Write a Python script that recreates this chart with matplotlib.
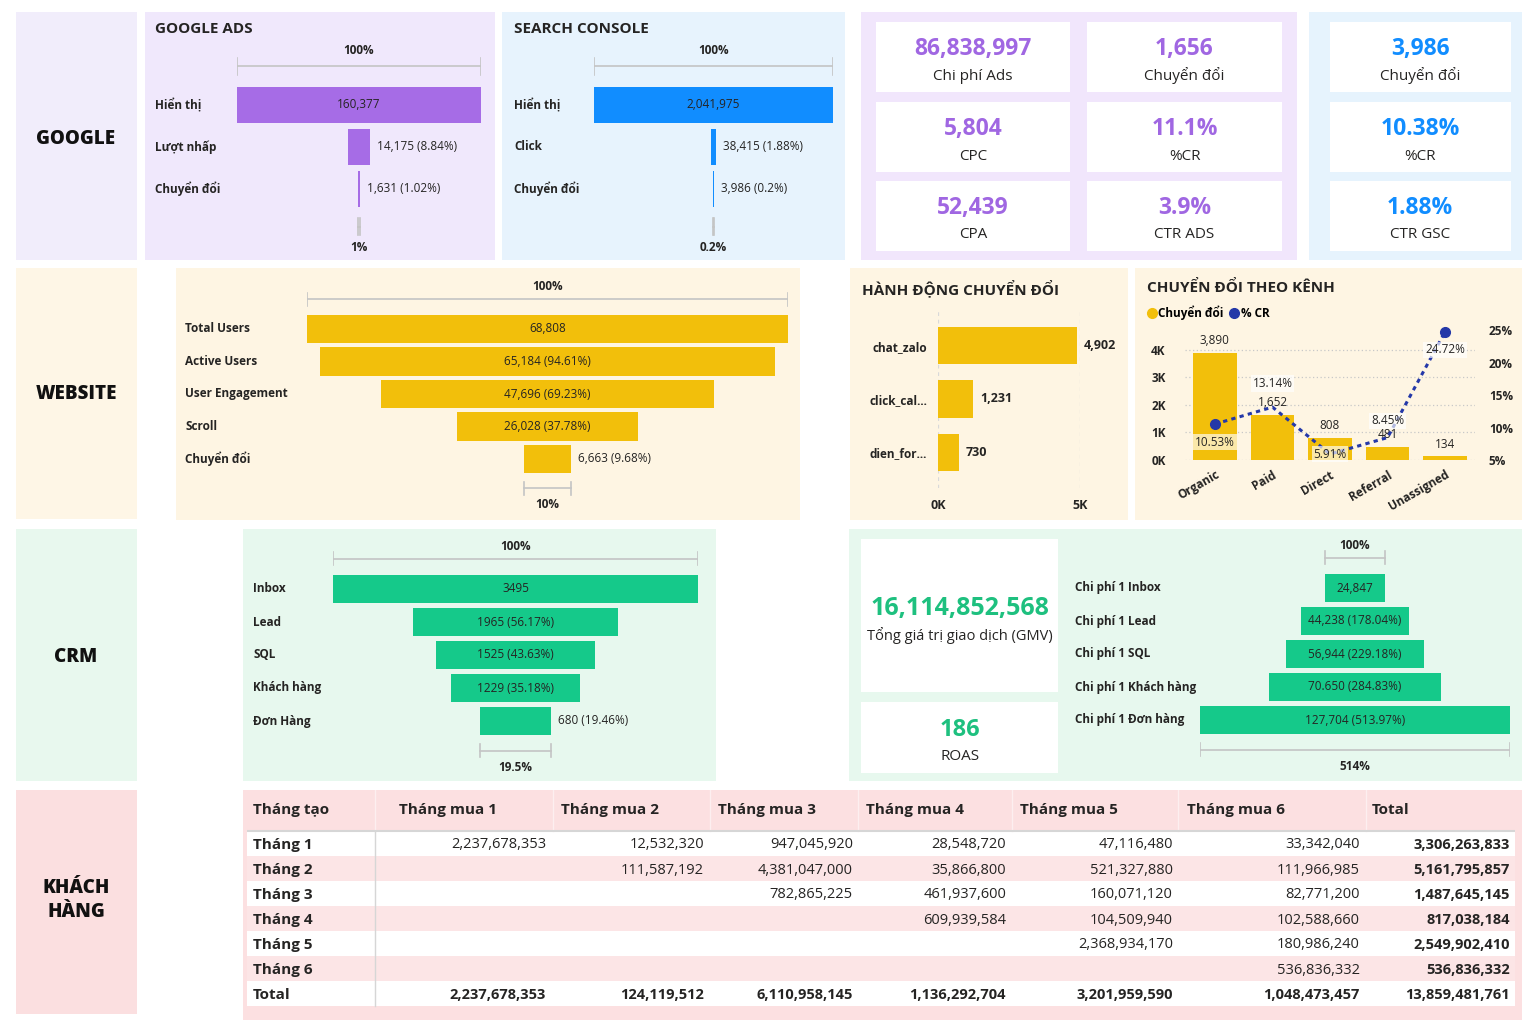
import matplotlib
matplotlib.use("Agg")
import matplotlib.pyplot as plt
from matplotlib.patches import Rectangle
from matplotlib.lines import Line2D
import numpy as np

plt.rcParams['font.family'] = ['Open Sans', 'DejaVu Sans']

W, H = 1536, 1024

# ---- du lieu ----
ads_steps = ["Hiển thị", "Lượt nhấp", "Chuyển đổi"]
ads_values = [160377, 14175, 1631]
ads_labels = ["160,377", "14,175 (8.84%)", "1,631 (1.02%)"]
ads_ends = ["100%", "1%"]

gsc_steps = ["Hiển thị", "Click", "Chuyển đổi"]
gsc_values = [2041975, 38415, 3986]
gsc_labels = ["2,041,975", "38,415 (1.88%)", "3,986 (0.2%)"]
gsc_ends = ["100%", "0.2%"]

ads_kpi_values = ["86,838,997", "1,656", "5,804", "11.1%", "52,439", "3.9%"]
ads_kpi_names = ["Chi phí Ads", "Chuyển đổi", "CPC", "%CR", "CPA", "CTR ADS"]
gsc_kpi_values = ["3,986", "10.38%", "1.88%"]
gsc_kpi_names = ["Chuyển đổi", "%CR", "CTR GSC"]

web_steps = ["Total Users", "Active Users", "User Engagement", "Scroll", "Chuyển đổi"]
web_values = [68808, 65184, 47696, 26028, 6663]
web_labels = ["68,808", "65,184 (94.61%)", "47,696 (69.23%)", "26,028 (37.78%)", "6,663 (9.68%)"]
web_ends = ["100%", "10%"]

action_names = ["chat_zalo", "click_cal...", "dien_for..."]
action_values = [4902, 1231, 730]

channels = ["Organic", "Paid", "Direct", "Referral", "Unassigned"]
channel_conv = [3890, 1652, 808, 481, 134]
channel_cr = [10.53, 13.14, 5.91, 8.45, 24.72]

crm_steps = ["Inbox", "Lead", "SQL", "Khách hàng", "Đơn Hàng"]
crm_values = [3495, 1965, 1525, 1229, 680]
crm_labels = ["3495", "1965 (56.17%)", "1525 (43.63%)", "1229 (35.18%)", "680 (19.46%)"]
crm_ends = ["100%", "19.5%"]

cost_steps = ["Chi phí 1 Inbox", "Chi phí 1 Lead", "Chi phí 1 SQL", "Chi phí 1 Khách hàng", "Chi phí 1 Đơn hàng"]
cost_values = [24847, 44238, 56944, 70650, 127704]
cost_labels = ["24,847", "44,238 (178.04%)", "56,944 (229.18%)", "70.650 (284.83%)", "127,704 (513.97%)"]
cost_ends = ["100%", "514%"]

gmv_value = "16,114,852,568"
roas_value = "186"

table_cols = ["Tháng tạo", "Tháng mua 1", "Tháng mua 2", "Tháng mua 3", "Tháng mua 4",
              "Tháng mua 5", "Tháng mua 6", "Total"]
table_rows = ["Tháng 1", "Tháng 2", "Tháng 3", "Tháng 4", "Tháng 5", "Tháng 6", "Total"]
cohort = [
    [2237678353, 12532320, 947045920, 28548720, 47116480, 33342040, 3306263833],
    [None, 111587192, 4381047000, 35866800, 521327880, 111966985, 5161795857],
    [None, None, 782865225, 461937600, 160071120, 82771200, 1487645145],
    [None, None, None, 609939584, 104509940, 102588660, 817038184],
    [None, None, None, None, 2368934170, 180986240, 2549902410],
    [None, None, None, None, None, 536836332, 536836332],
    [2237678353, 124119512, 6110958145, 1136292704, 3201959590, 1048473457, 13859481761],
]

# ---- mau ----
TXT = '#252423'
PURPLE = '#A66CE6'
BLUE = '#118DFF'
YELLOW = '#F2BF0B'
GREEN = '#15C98A'
GRAY = '#C4C4C4'

fig = plt.figure(figsize=(W / 100, H / 100), dpi=100)
bg = fig.add_axes([0, 0, 1, 1])
bg.set_xlim(0, W)
bg.set_ylim(H, 0)
bg.axis('off')


def panel(x0, y0, x1, y1, color):
    bg.add_patch(Rectangle((x0, y0), x1 - x0, y1 - y0, facecolor=color, edgecolor='none'))


def px_axes(x0, y0, x1, y1):
    ax = fig.add_axes([x0 / W, 1 - y1 / H, (x1 - x0) / W, (y1 - y0) / H])
    ax.set_facecolor('none')
    return ax


# nen cac khung
panel(16, 12, 137, 260, '#F1EDFB')
panel(16, 268, 137, 519, '#FEF6E6')
panel(16, 529, 137, 781, '#E8F8EE')
panel(16, 790, 137, 1014, '#FBDFE0')
panel(145, 12, 495, 260, '#F0E8FC')
panel(502, 12, 845, 260, '#E7F3FD')
panel(861, 12, 1297, 260, '#F1E6FC')
panel(1309, 12, 1522, 260, '#E6F3FD')
panel(176, 268, 800, 520, '#FEF5E3')
panel(850, 268, 1128, 520, '#FEF5E3')
panel(1135, 268, 1522, 520, '#FEF5E3')
panel(243, 529, 716, 781, '#E7F8EE')
panel(849, 529, 1522, 781, '#E7F8EE')
panel(243, 790, 1522, 1020, '#FCE0E1')

for txt, y in [("GOOGLE", 139), ("WEBSITE", 394), ("CRM", 657), ("KHÁCH\nHÀNG", 900)]:
    bg.text(76, y, txt, ha='center', va='center', fontsize=13.5, fontweight='heavy',
            color='#111111', linespacing=1.25)

bg.text(155, 29, "GOOGLE ADS", fontsize=11, fontweight='bold', color=TXT, va='center')
bg.text(514, 29, "SEARCH CONSOLE", fontsize=11, fontweight='bold', color=TXT, va='center')
bg.text(862, 288, "HÀNH ĐỘNG CHUYỂN ĐỔI", fontsize=11, fontweight='bold', color=TXT, va='center')
bg.text(1147, 288, "CHUYỂN ĐỔI THEO KÊNH", fontsize=11, fontweight='bold', color=TXT, va='center')


def funnel(x0, x1, y_first, step, steps, values, labels, ends, color, name_x):
    n = len(values)
    vmax = max(values)
    ax = px_axes(x0, y_first - 1.7 * step, x1, y_first + (n - 1 + 1.7) * step)
    ax.set_xlim(-vmax / 2, vmax / 2)
    ax.set_ylim(n - 1 + 1.7, -1.7)
    ax.axis('off')
    vals = np.array(values, dtype=float)
    pos = np.arange(n)
    ax.barh(pos, vals, left=-vals / 2, height=0.87, color=color)
    px_unit = (x1 - x0) / vmax
    for i, (v, lbl, name) in enumerate(zip(values, labels, steps)):
        if v * px_unit > len(lbl) * 5.8 + 6:
            ax.text(0, i, lbl, ha='center', va='center', fontsize=8.5, color=TXT)
        else:
            ax.annotate(lbl, (v / 2, i), xytext=(5, 0), textcoords='offset points',
                        ha='left', va='center', fontsize=8.5, color=TXT)
        ax.text((name_x - x0) / (x1 - x0), i, name, transform=ax.get_yaxis_transform(),
                ha='left', va='center', fontsize=8.5, fontweight='bold', color=TXT)
    for w, y, txt, ty in [(values[0], -0.92, ends[0], -1.3),
                          (values[-1], n - 1 + 0.9, ends[1], n - 1 + 1.4)]:
        ax.plot([-w / 2, w / 2], [y, y], color=GRAY, lw=1.2)
        for xe in (-w / 2, w / 2):
            ax.plot([xe, xe], [y - 0.2, y + 0.2], color=GRAY, lw=1.2)
        ax.text(0, ty, txt, ha='center', va='center', fontsize=8.5, fontweight='bold', color=TXT)
    return ax


funnel(237, 481, 105, 42, ads_steps, ads_values, ads_labels, ads_ends, PURPLE, 155)
funnel(594, 833, 105, 42, gsc_steps, gsc_values, gsc_labels, gsc_ends, BLUE, 514)
funnel(307, 788, 329, 32.5, web_steps, web_values, web_labels, web_ends, YELLOW, 185)
funnel(333, 698, 589, 33, crm_steps, crm_values, crm_labels, crm_ends, GREEN, 253)
funnel(1200, 1510, 588, 33, cost_steps, cost_values, cost_labels, cost_ends, GREEN, 1075)

# ---- the KPI ----
card_rows = [(22, 92), (102, 172), (181, 251)]
ads_cols = [(876, 1070), (1087, 1282)]
for k, (val, name) in enumerate(zip(ads_kpi_values, ads_kpi_names)):
    (cx0, cx1), (cy0, cy1) = ads_cols[k % 2], card_rows[k // 2]
    panel(cx0, cy0, cx1, cy1, 'white')
    cx = (cx0 + cx1) / 2
    bg.text(cx, cy0 + 27, val, ha='center', va='center', fontsize=16.5, fontweight='bold', color='#A067E2')
    bg.text(cx, cy0 + 54, name, ha='center', va='center', fontsize=11, color=TXT)
for k, (val, name) in enumerate(zip(gsc_kpi_values, gsc_kpi_names)):
    cy0, cy1 = card_rows[k]
    panel(1330, cy0, 1511, cy1, 'white')
    bg.text(1420, cy0 + 27, val, ha='center', va='center', fontsize=16.5, fontweight='bold', color=BLUE)
    bg.text(1420, cy0 + 54, name, ha='center', va='center', fontsize=11, color=TXT)

panel(861, 539, 1058, 692, 'white')
panel(861, 702, 1058, 773, 'white')
bg.text(960, 608, gmv_value, ha='center', va='center', fontsize=18, fontweight='bold', color='#1EC07F')
bg.text(960, 635, "Tổng giá trị giao dịch (GMV)", ha='center', va='center', fontsize=10.5, color=TXT)
bg.text(960, 730, roas_value, ha='center', va='center', fontsize=17, fontweight='bold', color='#1EC07F')
bg.text(960, 757, "ROAS", ha='center', va='center', fontsize=11, color=TXT)

# ---- hanh dong chuyen doi ----
ax = px_axes(938, 310, 1080, 488)
ax.barh(range(len(action_values)), action_values, height=0.7, color=YELLOW, zorder=2)
ax.set_xlim(0, 5000)
ax.set_ylim(len(action_values) - 0.33, -0.67)
ax.set_yticks(range(len(action_values)))
ax.set_yticklabels(action_names, fontsize=8.5, fontweight='bold', color=TXT)
ax.set_xticks([0, 5000])
ax.set_xticklabels(["0K", "5K"], fontsize=9, fontweight='bold', color=TXT)
ax.tick_params(length=0, pad=8)
ax.grid(axis='x', linestyle=(0, (3, 3)), color='#D9D9D9', lw=0.9)
for s in ax.spines.values():
    s.set_visible(False)
for i, v in enumerate(action_values):
    ax.annotate(f"{v:,}", (v, i), xytext=(5, 0), textcoords='offset points',
                ha='left', va='center', fontsize=9, fontweight='bold', color=TXT)

# ---- chuyen doi theo kenh ----
ax = px_axes(1185, 325, 1475, 460)
x = np.arange(len(channels))
ax.bar(x, channel_conv, width=0.76, color=YELLOW, zorder=2)
ax.set_xlim(-0.52, len(channels) - 0.48)
ax.set_ylim(0, 4909)
ax.set_yticks([0, 1000, 2000, 3000, 4000])
ax.set_yticklabels([f"{t // 1000}K" for t in [0, 1000, 2000, 3000, 4000]],
                   fontsize=8.5, fontweight='bold', color=TXT)
ax.set_xticks(x)
ax.set_xticklabels(channels, rotation=30, ha='right', rotation_mode='anchor',
                   fontsize=8.5, fontweight='bold', color=TXT)
ax.tick_params(length=0)
ax.tick_params(axis='y', pad=14)
ax.tick_params(axis='x', pad=6)
ax.grid(axis='y', linestyle=(0, (1, 2)), color='#C8C8C8', lw=0.9)
ax.set_axisbelow(True)
for s in ax.spines.values():
    s.set_visible(False)
for i, v in enumerate(channel_conv):
    ax.annotate(f"{v:,}", (i, v), xytext=(0, 4), textcoords='offset points',
                ha='center', va='bottom', fontsize=8.5, color=TXT)

ax2 = ax.twinx()
ax2.set_ylim(5, 25.77)
ax2.plot(x, channel_cr, color='#2438A8', lw=2.2, ls=(0, (1.4, 1.4)),
         marker='o', markevery=[0, len(x) - 1], ms=7, zorder=3)
ax2.set_yticks([5, 10, 15, 20, 25])
ax2.set_yticklabels(["5%", "10%", "15%", "20%", "25%"], fontsize=8.5, fontweight='bold', color=TXT)
ax2.tick_params(length=0, pad=10)
for s in ax2.spines.values():
    s.set_visible(False)
cr_offsets = [-13, 17, 0, 12, -13]
for i, (v, off) in enumerate(zip(channel_cr, cr_offsets)):
    ax2.annotate(f"{v}%", (i, v), xytext=(0, off), textcoords='offset points',
                 ha='center', va='center', fontsize=8.5, color=TXT,
                 bbox=dict(boxstyle='square,pad=0.15', fc='white', ec='none', alpha=0.65))

handles = [Line2D([], [], marker='o', color='none', markerfacecolor=YELLOW, markeredgecolor=YELLOW, ms=7),
           Line2D([], [], marker='o', color='none', markerfacecolor='#2438A8', markeredgecolor='#2438A8', ms=7)]
fig.legend(handles, ["Chuyển đổi", "% CR"], loc='center left', bbox_to_anchor=(1141 / W, 1 - 313 / H),
           ncol=2, frameon=False, handletextpad=0.05, columnspacing=0.4, handlelength=1.0,
           borderaxespad=0, prop={'size': 8.5, 'weight': 'bold'})

# ---- bang cohort ----
tx = px_axes(247, 790, 1515, 1008)
tx.set_xlim(247, 1515)
tx.set_ylim(6.6, -2.12)
tx.axis('off')
head_x = [253, 399, 561, 718, 866, 1020, 1187, 1372]
val_right = [546, 704, 853, 1006, 1173, 1360, 1510]
col_edges = [375, 553, 710, 858, 1012, 1178, 1366]
for i in range(len(table_rows)):
    tx.axhspan(i - 0.5, i + 0.5, color='white' if i % 2 == 0 else '#FCE5E6', lw=0)
for e in col_edges:
    tx.plot([e, e], [-2.12, -0.5], color='#FDEFF0', lw=1)
tx.plot([247, 1515], [-0.5, -0.5], color='#D6D6D6', lw=1.5)
tx.plot([375, 375], [-0.5, 6.5], color='#D6D6D6', lw=1)
for hx, name in zip(head_x, table_cols):
    tx.text(hx, -1.32, name, ha='left', va='center', fontsize=11, fontweight='bold', color=TXT)
for i, (rname, row) in enumerate(zip(table_rows, cohort)):
    tx.text(253, i + 0.08, rname, ha='left', va='center', fontsize=11, fontweight='bold', color=TXT)
    for j, v in enumerate(row):
        if v is None:
            continue
        bold = (i == len(table_rows) - 1) or (j == len(row) - 1)
        tx.text(val_right[j], i + 0.08, f"{v:,}", ha='right', va='center', fontsize=10.5,
                fontweight='bold' if bold else 'normal', color=TXT)

fig.savefig("out.png", dpi=100, facecolor='white')
